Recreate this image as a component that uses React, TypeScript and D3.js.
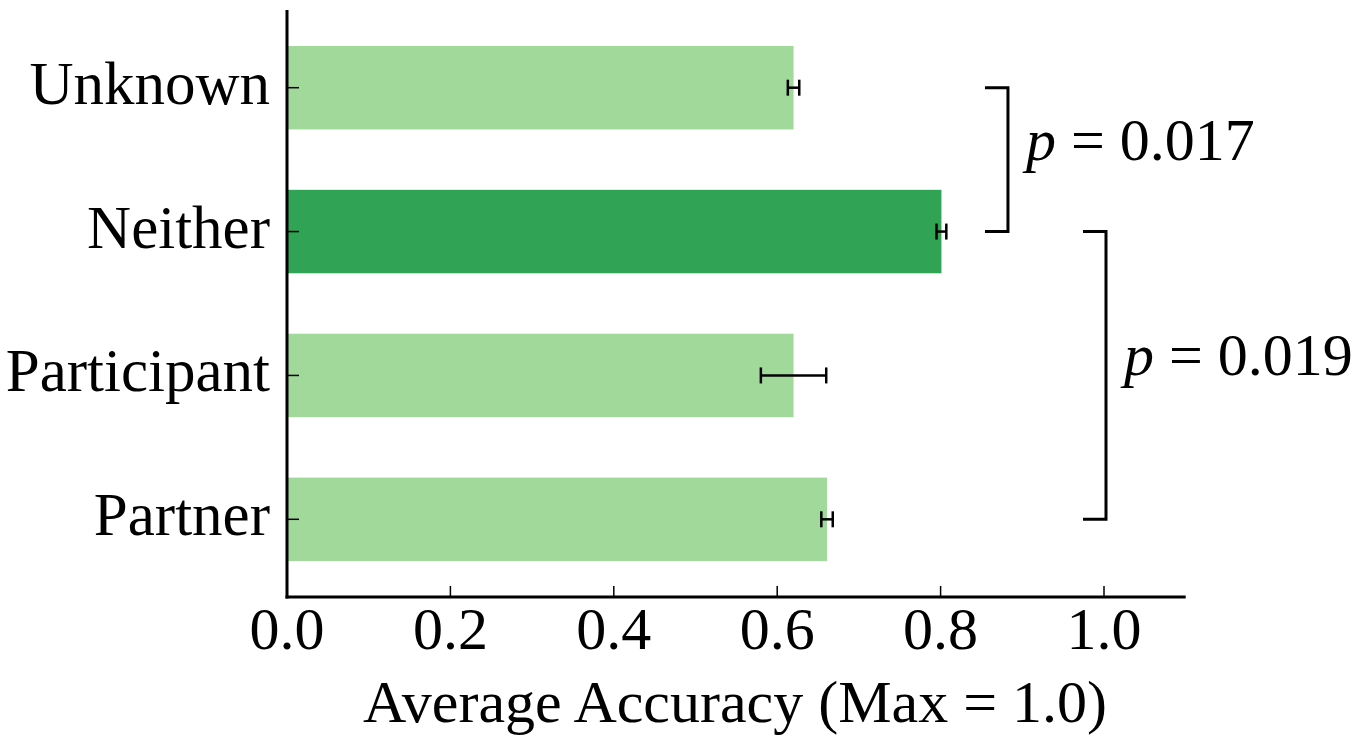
import React from "react";
import * as d3 from "d3";

const categories = ["Partner", "Participant", "Neither", "Unknown"];
const values = [0.661, 0.62, 0.801, 0.62];
const errors = [0.007, 0.04, 0.006, 0.007];
const highlight = [false, false, true, false];
const xTicks = [0.0, 0.2, 0.4, 0.6, 0.8, 1.0];
const brackets = [
  { from: 3, to: 2, xPos: 0.88, label: "0.017" },
  { from: 2, to: 0, xPos: 1.0, label: "0.019" },
];

const W = 1358;
const H = 736;
const FONT = "'Liberation Serif', 'DejaVu Serif', serif";

export default function App() {
  const x = d3.scaleLinear().domain([0, 1.1]).range([287, 1185.7]);
  const y = d3.scaleLinear().domain([3.54, -0.54]).range([10, 597]);
  const barH = (y(0) - y(1)) * 0.58;
  const lightC = "#a1d99b";
  const darkC = "#31a354";

  return (
    <svg
      width={W}
      height={H}
      style={{ position: "fixed", top: 0, left: 0, background: "#fff" }}
      fontFamily={FONT}
    >
      {categories.map((c, i) => (
        <rect
          key={c}
          x={x(0)}
          y={y(i) - barH / 2}
          width={x(values[i]) - x(0)}
          height={barH}
          fill={highlight[i] ? darkC : lightC}
        />
      ))}
      {categories.map((c, i) => {
        const lo = x(values[i] - errors[i]);
        const hi = x(values[i] + errors[i]);
        const cy = y(i);
        return (
          <g key={"e" + c} stroke="#000" strokeWidth={2.5}>
            <line x1={lo} x2={hi} y1={cy} y2={cy} />
            <line x1={lo} x2={lo} y1={cy - 8} y2={cy + 8} />
            <line x1={hi} x2={hi} y1={cy - 8} y2={cy + 8} />
          </g>
        );
      })}
      {/* spines */}
      <line x1={x(0)} x2={x(0)} y1={10} y2={598.5} stroke="#000" strokeWidth={3} />
      <line x1={x(0) - 1.5} x2={x(1.1)} y1={597} y2={597} stroke="#000" strokeWidth={3} />
      {/* y ticks */}
      {categories.map((c, i) => (
        <g key={"t" + c}>
          <line x1={x(0)} x2={x(0) + 12} y1={y(i)} y2={y(i)} stroke="#000" strokeWidth={1.5} />
          <text
            x={270}
            y={y(i) + 16}
            textAnchor="end"
            fontSize={61}
            fill="#000"
          >
            {c}
          </text>
        </g>
      ))}
      {/* x ticks */}
      {xTicks.map((t) => (
        <g key={"x" + t}>
          <line x1={x(t)} x2={x(t)} y1={597} y2={586} stroke="#000" strokeWidth={1.5} />
          <text x={x(t)} y={649} textAnchor="middle" fontSize={60} fill="#000">
            {d3.format(".1f")(t)}
          </text>
        </g>
      ))}
      <text x={735} y={722} textAnchor="middle" fontSize={60} fill="#000">
        Average Accuracy (Max = 1.0)
      </text>
      {brackets.map((b) => {
        const xr = x(b.xPos) + 2;
        const xl = xr - 23;
        const y1 = y(b.from);
        const y2 = y(b.to);
        const mid = (y1 + y2) / 2;
        return (
          <g key={b.label}>
            <path
              d={`M${xl},${y1}H${xr}V${y2}H${xl}`}
              fill="none"
              stroke="#000"
              strokeWidth={3}
            />
            <text x={xr + 18} y={mid} fontSize={60} fill="#000">
              <tspan fontStyle="italic">p</tspan>
              <tspan> = {b.label}</tspan>
            </text>
          </g>
        );
      })}
    </svg>
  );
}
